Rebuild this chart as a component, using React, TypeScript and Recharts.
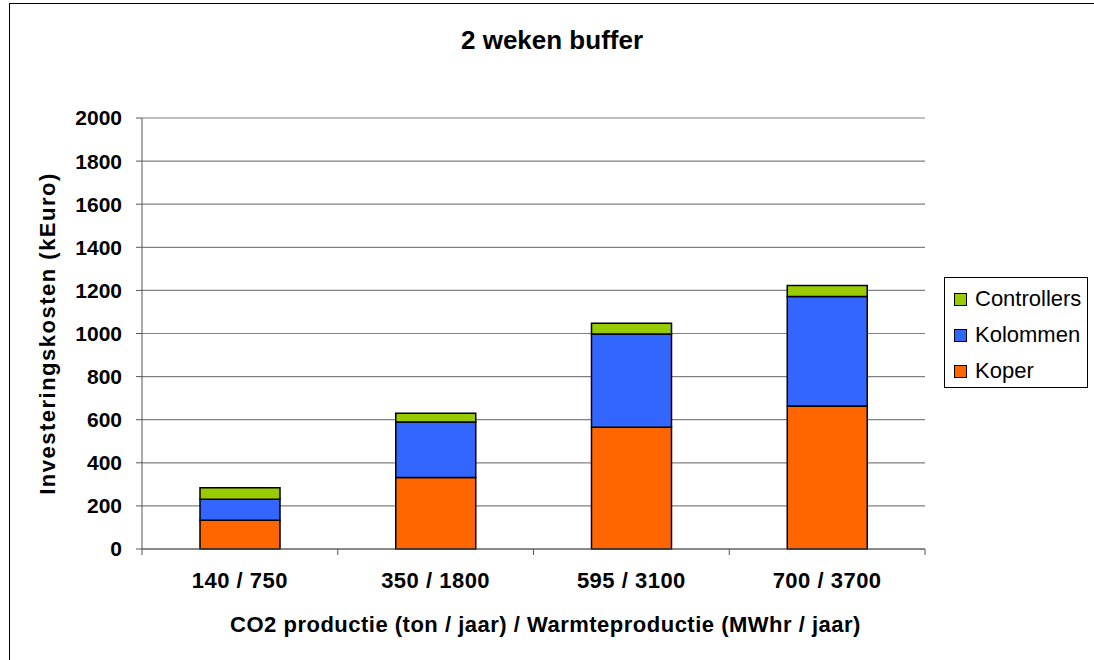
import { BarChart, Bar, XAxis, YAxis, CartesianGrid } from "recharts"

const categories = ["140 / 750", "350 / 1800", "595 / 3100", "700 / 3700"]
const koper = [133, 332, 565, 664]
const kolommen = [98, 257, 433, 508]
const controllers = [53, 41, 50, 51]
const yTicks = [0, 200, 400, 600, 800, 1000, 1200, 1400, 1600, 1800, 2000]

const series = [
  { key: "Koper", values: koper, color: "#FF6600" },
  { key: "Kolommen", values: kolommen, color: "#3366FF" },
  { key: "Controllers", values: controllers, color: "#99CC00" },
]

const data = categories.map((name, i) => {
  const row: Record<string, string | number> = { name }
  series.forEach((s) => (row[s.key] = s.values[i]))
  return row
})

const FONT = '"Liberation Sans", Arial, sans-serif'
const W = 1094
const H = 660
const PLOT_W = 783

function CategoryTick(props: any) {
  const { x, y, payload, index } = props
  const band = PLOT_W / categories.length
  return (
    <g>
      <line x1={x - band / 2} x2={x - band / 2} y1={y} y2={y + 6} stroke="#555" />
      {index === categories.length - 1 && (
        <line x1={x + band / 2} x2={x + band / 2} y1={y} y2={y + 6} stroke="#555" />
      )}
      <text
        x={x}
        y={y + 39}
        textAnchor="middle"
        fontSize={22}
        fontWeight="bold"
        fill="#000"
        fontFamily={FONT}
        style={{ letterSpacing: 0.5 }}
      >
        {payload.value}
      </text>
    </g>
  )
}

export default function App() {
  return (
    <div style={{ position: "relative", width: W, height: H, fontFamily: FONT, background: "#fff", overflow: "hidden" }}>
      <style>{`body{margin:0;overflow:hidden}`}</style>
      <div
        style={{
          position: "absolute",
          left: 9,
          top: 3,
          width: W + 20,
          height: H + 20,
          borderLeft: "1px solid #000",
          borderTop: "1px solid #000",
        }}
      />
      <div
        style={{
          position: "absolute",
          top: 25,
          left: 0,
          width: W,
          paddingLeft: 5,
          textAlign: "center",
          fontSize: 26,
          fontWeight: "bold",
          color: "#000",
        }}
      >
        2 weken buffer
      </div>
      <BarChart
        width={W}
        height={H}
        data={data}
        margin={{ top: 118, right: 169, bottom: 21, left: 0 }}
        style={{ position: "absolute", left: 0, top: 0 }}
      >
        <CartesianGrid vertical={false} stroke="#808080" strokeWidth={1.2} />
        <XAxis
          dataKey="name"
          height={90}
          tickSize={0}
          tickMargin={0}
          tickLine={false}
          stroke="#555"
          tick={<CategoryTick />}
          interval={0}
          label={{
            value: "CO2 productie (ton / jaar) / Warmteproductie (MWhr / jaar)",
            position: "insideBottom",
            offset: 7,
            dx: 12,
            style: { fontSize: 22, fontWeight: "bold", fill: "#000", fontFamily: FONT, letterSpacing: 0.5 },
          }}
        />
        <YAxis
          width={142}
          domain={[0, 2000]}
          ticks={yTicks}
          interval={0}
          tickSize={6}
          tickMargin={14}
          stroke="#555"
          tick={{ fontSize: 21, fontWeight: "bold", fill: "#000", fontFamily: FONT }}
          label={{
            value: "Investeringskosten (kEuro)",
            angle: -90,
            position: "insideLeft",
            offset: 47,
            style: {
              fontSize: 22,
              fontWeight: "bold",
              fill: "#000",
              fontFamily: FONT,
              textAnchor: "middle",
              letterSpacing: 1.5,
            },
          }}
        />
        {series.map((s) => (
          <Bar
            key={s.key}
            dataKey={s.key}
            stackId="a"
            fill={s.color}
            stroke="#000"
            strokeWidth={1.5}
            barSize={80}
            isAnimationActive={false}
          />
        ))}
      </BarChart>
      <div
        style={{
          position: "absolute",
          left: 944,
          top: 277,
          width: 144,
          height: 111,
          border: "1px solid #000",
          boxSizing: "border-box",
          paddingTop: 3,
        }}
      >
        {[...series].reverse().map((s) => (
          <div key={s.key} style={{ display: "flex", alignItems: "center", height: 36 }}>
            <span
              style={{
                display: "inline-block",
                width: 11,
                height: 11,
                marginLeft: 9,
                marginRight: 8,
                background: s.color,
                border: "1px solid #000",
              }}
            />
            <span style={{ fontSize: 22, color: "#000" }}>{s.key}</span>
          </div>
        ))}
      </div>
    </div>
  )
}
